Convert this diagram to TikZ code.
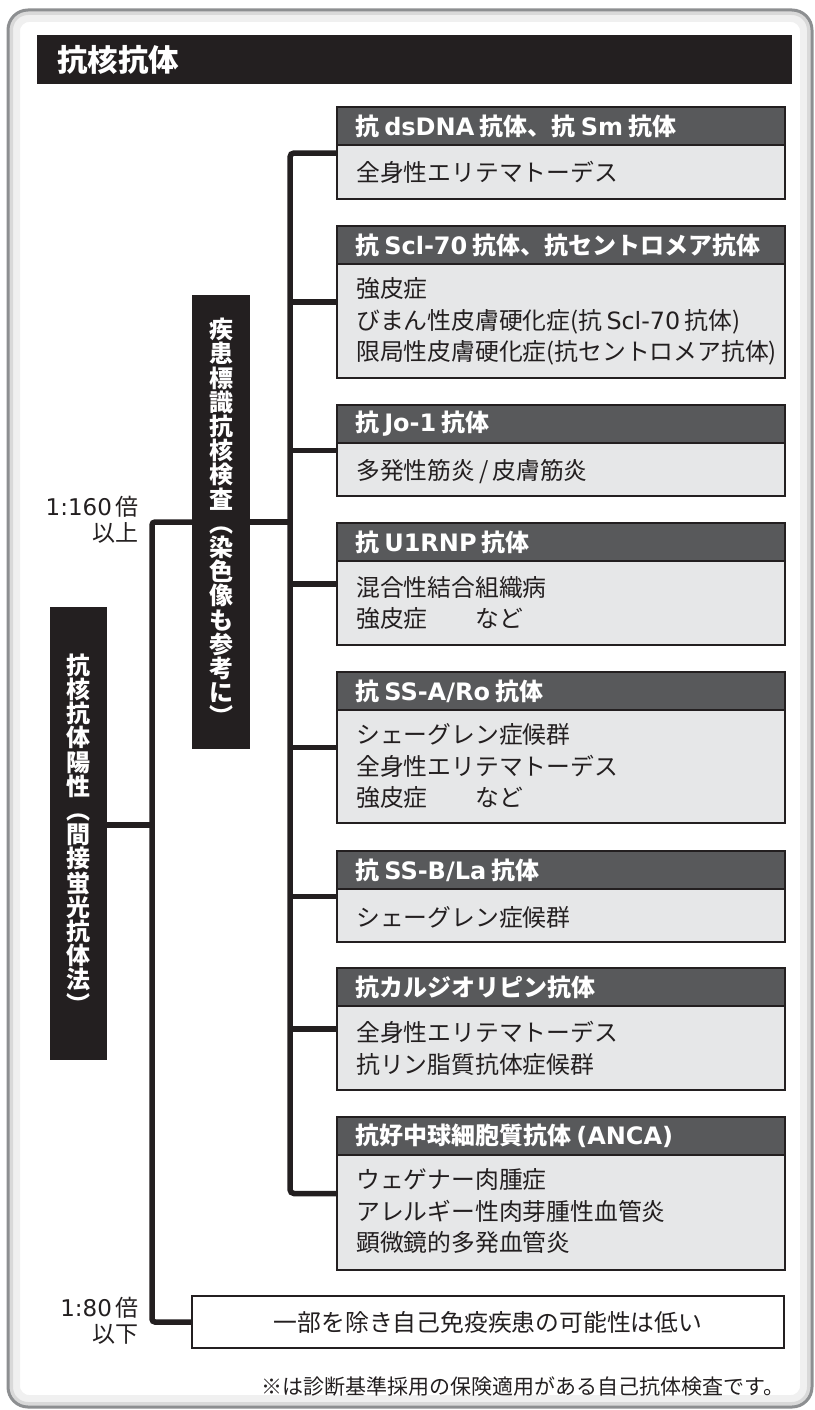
\documentclass[tikz,border=0pt]{standalone}
\usepackage{fontspec}
\setmainfont{Noto Sans CJK JP}
\newfontfamily\dv{DejaVu Sans}[Scale=1.0]
\definecolor{ink}{HTML}{231F20}
\definecolor{hdrc}{HTML}{58595B}
\definecolor{bodyc}{HTML}{E6E7E8}
\definecolor{framec}{HTML}{8D8F91}
\newcommand\lt[1]{\hspace{0.22em}{\dv #1}\hspace{0.22em}}
\newcommand\lb[1]{\hspace{0.18em}{\dv #1}\hspace{0.18em}}
\begin{document}
\begin{tikzpicture}[x=1pt,y=-1pt,
  box/.style={rectangle, draw=ink, line width=2.4pt, fill=bodyc, minimum width=448pt, inner sep=0pt},
  hdr/.style={rectangle, draw=ink, line width=2.4pt, fill=hdrc, minimum width=448pt, minimum height=38pt,
    inner xsep=18pt, inner ysep=0pt, text width=412pt, align=left, anchor=north west,
    text=white, font=\bfseries\fontsize{24}{26}\selectfont},
  bodytxt/.style={anchor=west, align=left, inner sep=0pt, text=ink, font=\fontsize{23.8}{31.5}\selectfont},
  vbox/.style={rectangle, fill=ink, text=white, inner sep=0pt, align=center,
    font=\bfseries\fontsize{24}{24.2}\selectfont},
  lbl/.style={anchor=east, align=right, inner sep=0pt, text=ink, font=\fontsize{23}{26}\selectfont},
  bus/.style={draw=ink, line width=5.5pt}]
\useasboundingbox (0,0) rectangle (814,1410);
% frame
\draw[gray!12, line width=10pt, rounded corners=14pt] (15,17) rectangle (805,1400);
\draw[gray!30, line width=4pt, rounded corners=17pt] (11,13) rectangle (809,1404);
\draw[framec, line width=3pt, rounded corners=20pt] (8,10) rectangle (812,1407);
% title
\node[rectangle, fill=ink, minimum width=755pt, minimum height=49pt, inner sep=0pt] (tbar) at (414.5,59.5) {};
\node[anchor=west, inner sep=0pt, text=white, font=\bfseries\fontsize{30.5}{32}\selectfont] (title) at (57,60) {抗核抗体};
% boxes
\node[box, minimum height=92pt] (b1) at (561,153) {};
\node[box, minimum height=152pt] (b2) at (561,302) {};
\node[box, minimum height=91pt] (b3) at (561,450.5) {};
\node[box, minimum height=122pt] (b4) at (561,584) {};
\node[box, minimum height=151pt] (b5) at (561,747.5) {};
\node[box, minimum height=91pt] (b6) at (561,896.5) {};
\node[box, minimum height=122pt] (b7) at (561,1029) {};
\node[box, minimum height=153pt] (b8) at (561,1193.5) {};
\node[hdr] (h1) at (b1.north west) {抗\lt{dsDNA}抗体、抗\lt{Sm}抗体};
\node[hdr] (h2) at (b2.north west) {抗\lt{Scl-70}抗体、抗セントロメア抗体};
\node[hdr] (h3) at (b3.north west) {抗\lt{Jo-1}抗体};
\node[hdr] (h4) at (b4.north west) {抗\lt{U1RNP}抗体};
\node[hdr] (h5) at (b5.north west) {抗\lt{SS-A/Ro}抗体};
\node[hdr] (h6) at (b6.north west) {抗\lt{SS-B/La}抗体};
\node[hdr] (h7) at (b7.north west) {抗カルジオリピン抗体};
\node[hdr] (h8) at (b8.north west) {抗好中球細胞質抗体\lt{(ANCA)}};
\node[bodytxt] (t1) at (356,172) {全身性エリテマトーデス};
\node[bodytxt] (t2) at (356,321.5) {強皮症\\びまん性皮膚硬化症(抗\lb{Scl-70}抗体)\\限局性皮膚硬化症(抗セントロメア抗体)};
\node[bodytxt] (t3) at (356,472) {多発性筋炎\,/\,皮膚筋炎};
\node[bodytxt] (t4) at (356,603) {混合性結合組織病\\強皮症\hspace{2em}など};
\node[bodytxt] (t5) at (356,766.5) {シェーグレン症候群\\全身性エリテマトーデス\\強皮症\hspace{2em}など};
\node[bodytxt] (t6) at (356,917) {シェーグレン症候群};
\node[bodytxt] (t7) at (356,1048.5) {全身性エリテマトーデス\\抗リン脂質抗体症候群};
\node[bodytxt] (t8) at (356,1211) {ウェゲナー肉腫症\\アレルギー性肉芽腫性血管炎\\顕微鏡的多発血管炎};
\node[rectangle, draw=ink, line width=2.4pt, fill=white, minimum width=592pt, minimum height=52pt, inner sep=0pt,
  text=ink, font=\fontsize{23.8}{26}\selectfont] (b9) at (488,1322) {一部を除き自己免疫疾患の可能性は低い};
% vertical boxes
\node[vbox, minimum width=58pt, minimum height=454pt] (mk) at (221,522)
  {疾\\患\\標\\識\\抗\\核\\検\\査\\︵\\染\\色\\像\\も\\参\\考\\に\\︶};
\node[vbox, minimum width=57pt, minimum height=453pt] (lf) at (78.5,833.5)
  {抗\\核\\抗\\体\\陽\\性\\︵\\間\\接\\蛍\\光\\抗\\体\\法\\︶};
% labels
\node[lbl] (r160) at (139,520) {{\dv 1:160}\,倍\\以上};
\node[lbl] (r80) at (139,1320.5) {{\dv 1:80}\,倍\\以下};
\node[anchor=east, inner sep=0pt, text=ink, font=\fontsize{21}{24}\selectfont] (foot) at (785,1387)
  {※は診断基準採用の保険適用がある自己抗体検査です。};
% connectors
\coordinate (L1) at (152,522);
\coordinate (L2) at (152,1322);
\coordinate (L0) at (152,825);
\coordinate (Rx) at (290,0);
\draw[bus, rounded corners=3pt] (mk.west) -- (L1) -- (L2) -- (b9.west);
\draw[bus] (lf.east |- L0) -- (L0);
\draw[bus] (mk.east) -- (mk.east -| Rx);
\draw[bus, rounded corners=4pt] (b1.west) -- (b1.west -| Rx) -- (b8.west -| Rx) -- (b8.west);
\foreach \n in {2,...,7} { \draw[bus] (b\n.west -| Rx) -- (b\n.west); }
\end{tikzpicture}
\end{document}
